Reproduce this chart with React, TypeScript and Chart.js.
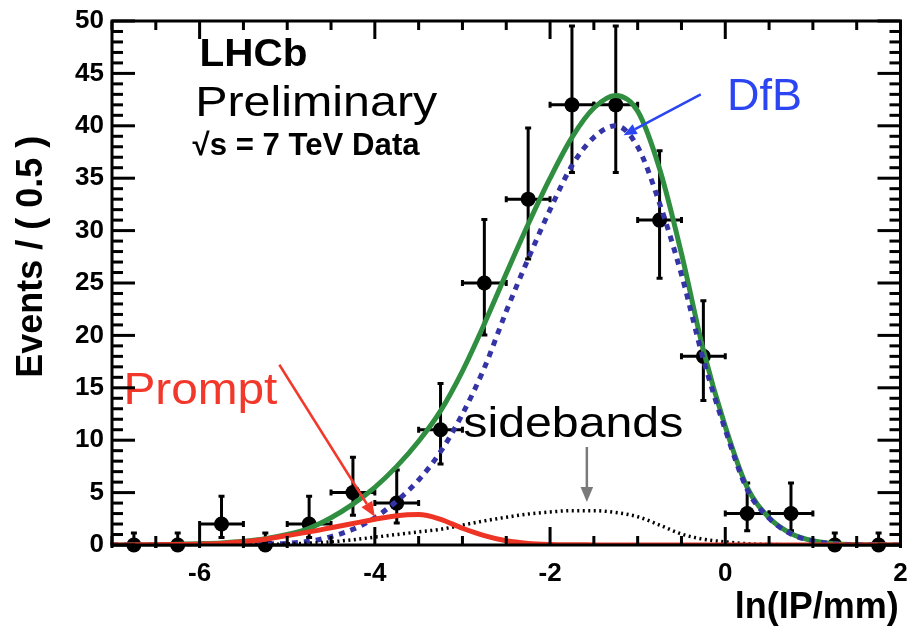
import React, { useEffect, useRef } from "react";
import { Chart, registerables } from "chart.js";

Chart.register(...registerables);

// ---------- data ----------
const binCenters = [-6.75, -6.25, -5.75, -5.25, -4.75, -4.25, -3.75, -3.25, -2.75, -2.25, -1.75, -1.25, -0.75, -0.25, 0.25, 0.75, 1.25, 1.75];
const counts = [0, 0, 2, 0, 2, 5, 4, 11, 25, 33, 42, 42, 31, 18, 3, 3, 0, 0];
const errLow = [0, 0, 1.29, 0, 1.29, 2.16, 1.91, 3.28, 4.97, 5.72, 6.45, 6.45, 5.54, 4.21, 1.63, 1.63, 0, 0];
const errHigh = [1.15, 1.15, 2.64, 1.15, 2.64, 3.38, 3.16, 4.42, 6.06, 6.79, 7.52, 7.52, 6.62, 5.3, 2.92, 2.92, 1.15, 1.15];
const binHalfWidth = 0.25;

const curveX = [-7, -6.75, -6.5, -6.25, -6, -5.75, -5.5, -5.25, -5, -4.75, -4.5, -4.25, -4, -3.75, -3.5, -3.25, -3, -2.75, -2.5, -2.25, -2, -1.75, -1.5, -1.25, -1, -0.75, -0.5, -0.25, 0, 0.25, 0.5, 0.75, 1, 1.25, 1.5, 1.75, 2];
const totalFit = [0, 0.01, 0.03, 0.06, 0.12, 0.2, 0.35, 0.6, 1.0, 1.6, 2.6, 3.9, 5.5, 7.5, 9.9, 12.8, 16.6, 21.1, 25.9, 30.6, 35.0, 38.9, 41.7, 42.9, 41.4, 35.9, 27.8, 18.6, 11.3, 5.5, 2.6, 1.1, 0.4, 0.12, 0.04, 0.01, 0];
const dfbFit = [0, 0, 0, 0.01, 0.02, 0.03, 0.05, 0.09, 0.16, 0.35, 0.8, 1.5, 2.6, 4.2, 6.2, 8.9, 12.5, 16.9, 22.3, 27.3, 32.0, 36.2, 38.9, 40.0, 38.0, 32.6, 25.8, 17.7, 11.0, 5.3, 2.55, 1.05, 0.38, 0.11, 0.03, 0.01, 0];
const promptFit = [0, 0.01, 0.02, 0.04, 0.08, 0.15, 0.3, 0.55, 0.9, 1.25, 1.65, 2.05, 2.45, 2.8, 2.9, 2.45, 1.6, 0.9, 0.4, 0.15, 0.05, 0.02, 0.01, 0, 0, 0, 0, 0, 0, 0, 0, 0, 0, 0, 0, 0, 0];
const sidebandFit = [0, 0, 0.01, 0.01, 0.02, 0.03, 0.04, 0.06, 0.1, 0.18, 0.3, 0.5, 0.75, 1.0, 1.25, 1.5, 1.9, 2.3, 2.65, 2.95, 3.15, 3.28, 3.28, 3.1, 2.7, 1.9, 1.05, 0.55, 0.3, 0.12, 0.05, 0.02, 0, 0, 0, 0, 0];

const xTickValues = [-6, -4, -2, 0, 2];
const yTickValues = [0, 5, 10, 15, 20, 25, 30, 35, 40, 45, 50];
const xMinorTicks = [-7, -6.5, -6, -5.5, -5, -4.5, -4, -3.5, -3, -2.5, -2, -1.5, -1, -0.5, 0, 0.5, 1, 1.5, 2];
const yMinorTicks = [0, 1, 2, 3, 4, 5, 6, 7, 8, 9, 10, 11, 12, 13, 14, 15, 16, 17, 18, 19, 20, 21, 22, 23, 24, 25, 26, 27, 28, 29, 30, 31, 32, 33, 34, 35, 36, 37, 38, 39, 40, 41, 42, 43, 44, 45, 46, 47, 48, 49, 50];
const xRange = [-7, 2];
const yRange = [0, 50];

const yTitle = "Events / ( 0.5 )";
const xTitle = "ln(IP/mm)";

// annotations: anchor in data coordinates
const labels = [
  { text: "LHCb", x: -6.0, y: 45.7, font: "bold 39px 'Liberation Sans'", color: "#000", width: 108 },
  { text: "Preliminary", x: -6.05, y: 40.9, font: "42px 'Liberation Sans'", color: "#000", width: 242 },
  { text: "\u221As = 7 TeV Data", x: -6.08, y: 37.2, font: "bold 31px 'Liberation Sans'", color: "#000", width: 227 },
  { text: "DfB", x: 0.02, y: 41.5, font: "44px 'Liberation Sans'", color: "#2b45f2", width: 75 },
  { text: "Prompt", x: -6.87, y: 13.5, font: "44px 'Liberation Sans'", color: "#f2382a", width: 154 },
  { text: "sidebands", x: -2.99, y: 10.3, font: "42px 'Liberation Sans'", color: "#000", width: 220 },
];
const arrows = [
  { x0: -0.28, y0: 43.0, x1: -1.16, y1: 39.1, color: "#2b45f2", width: 2.5, head: 13 },
  { x0: -5.09, y0: 17.2, x1: -4.0, y1: 2.7, color: "#f2382a", width: 2.5, head: 15 },
  { x0: -1.58, y0: 9.35, x1: -1.58, y1: 4.1, color: "#7a7a7a", width: 2.5, head: 15 },
];

const pts = (ys: number[]) => curveX.map((x, i) => ({ x, y: ys[i] }));

function drawArrow(ctx: CanvasRenderingContext2D, ax: number, ay: number, bx: number, by: number, color: string, w: number, head: number) {
  const ang = Math.atan2(by - ay, bx - ax);
  const hw = head * 0.42;
  const baseX = bx - head * Math.cos(ang);
  const baseY = by - head * Math.sin(ang);
  ctx.save();
  ctx.strokeStyle = color;
  ctx.fillStyle = color;
  ctx.lineWidth = w;
  ctx.setLineDash([]);
  ctx.beginPath();
  ctx.moveTo(ax, ay);
  ctx.lineTo(baseX, baseY);
  ctx.stroke();
  ctx.beginPath();
  ctx.moveTo(bx, by);
  ctx.lineTo(baseX - hw * Math.sin(ang), baseY + hw * Math.cos(ang));
  ctx.lineTo(baseX + hw * Math.sin(ang), baseY - hw * Math.cos(ang));
  ctx.closePath();
  ctx.fill();
  ctx.restore();
}

const physicsPlugin = {
  id: "physics",
  beforeDatasetsDraw(chart: any) {
    const ctx: CanvasRenderingContext2D = chart.ctx;
    const x = chart.scales.x, y = chart.scales.y;
    ctx.save();
    ctx.setLineDash([]);
    ctx.strokeStyle = "#000";
    ctx.lineWidth = 3;
    binCenters.forEach((c, i) => {
      const px = x.getPixelForValue(c);
      const py = y.getPixelForValue(counts[i]);
      const hiVal = counts[i] + errHigh[i];
      const clippedTop = hiVal > yRange[1];
      const yTop = y.getPixelForValue(Math.min(hiVal, yRange[1]));
      const yBot = y.getPixelForValue(Math.max(counts[i] - errLow[i], yRange[0]));
      const xl = x.getPixelForValue(c - binHalfWidth);
      const xr = x.getPixelForValue(c + binHalfWidth);
      ctx.beginPath();
      ctx.moveTo(px, yTop);
      ctx.lineTo(px, yBot);
      ctx.moveTo(xl, py);
      ctx.lineTo(xr, py);
      if (!clippedTop) {
        ctx.moveTo(px - 3, yTop);
        ctx.lineTo(px + 3, yTop);
      }
      if (errLow[i] > 0) {
        ctx.moveTo(px - 3, yBot);
        ctx.lineTo(px + 3, yBot);
      }
      ctx.moveTo(xl, py - 3);
      ctx.lineTo(xl, py + 3);
      ctx.moveTo(xr, py - 3);
      ctx.lineTo(xr, py + 3);
      ctx.stroke();
    });
    ctx.restore();
  },
  afterDatasetsDraw(chart: any) {
    const ctx: CanvasRenderingContext2D = chart.ctx;
    const x = chart.scales.x, y = chart.scales.y;
    arrows.forEach((a) =>
      drawArrow(ctx, x.getPixelForValue(a.x0), y.getPixelForValue(a.y0), x.getPixelForValue(a.x1), y.getPixelForValue(a.y1), a.color, a.width, a.head)
    );
    labels.forEach((l) => {
      ctx.save();
      ctx.font = l.font;
      ctx.fillStyle = l.color;
      ctx.textBaseline = "alphabetic";
      ctx.textAlign = "left";
      const m = ctx.measureText(l.text).width;
      const sx = l.width / m;
      ctx.translate(x.getPixelForValue(l.x), y.getPixelForValue(l.y));
      ctx.scale(sx, 1);
      ctx.fillText(l.text, 0, 0);
      ctx.restore();
    });
  },
  afterDraw(chart: any) {
    const ctx: CanvasRenderingContext2D = chart.ctx;
    const x = chart.scales.x, y = chart.scales.y;
    const ca = chart.chartArea;
    ctx.save();
    ctx.setLineDash([]);
    ctx.fillStyle = "#000";
    // inside ticks, all four sides
    yMinorTicks.forEach((v) => {
      const py = y.getPixelForValue(v);
      const len = yTickValues.indexOf(v) >= 0 ? 23 : 11;
      ctx.fillRect(ca.left, py - 1.5, len, 3);
      ctx.fillRect(ca.right - len, py - 1.5, len, 3);
    });
    xMinorTicks.forEach((v) => {
      const px = x.getPixelForValue(v);
      const len = xTickValues.indexOf(v) >= 0 ? 18 : 9;
      ctx.fillRect(px - 1.5, ca.bottom - len, 3, len);
      ctx.fillRect(px - 1.5, ca.top, 3, len);
    });
    ctx.strokeStyle = "#000";
    ctx.lineWidth = 3;
    ctx.strokeRect(ca.left, ca.top, ca.right - ca.left, ca.bottom - ca.top);
    // axis titles
    ctx.font = "bold 36px 'Liberation Sans'";
    ctx.textBaseline = "alphabetic";
    ctx.save();
    ctx.translate(42, y.getPixelForValue(27.5));
    ctx.rotate(-Math.PI / 2);
    ctx.textAlign = "center";
    ctx.fillText(yTitle, 0, 0);
    ctx.restore();
    ctx.textAlign = "right";
    ctx.fillText(xTitle, x.getPixelForValue(1.98), 618);
    ctx.restore();
  },
};

export default function App() {
  const ref = useRef<HTMLCanvasElement>(null);
  useEffect(() => {
    document.body.style.margin = "0";
    const canvas = ref.current;
    if (!canvas) return;
    const tickFont = { family: "'Liberation Sans'", weight: "bold" as const, size: 26 };
    const chart = new Chart(canvas, {
      type: "line",
      data: {
        datasets: [
          {
            type: "scatter",
            label: "data",
            data: binCenters.map((c, i) => ({ x: c, y: counts[i] })),
            pointRadius: 7.5,
            pointBackgroundColor: "#000",
            pointBorderWidth: 0,
            showLine: false,
            clip: false,
            order: 10,
          } as any,
          {
            label: "total",
            data: pts(totalFit),
            borderColor: "#2f8e3f",
            borderWidth: 5,
            pointRadius: 0,
            cubicInterpolationMode: "monotone",
            fill: false,
            order: 4,
          },
          {
            label: "DfB",
            data: pts(dfbFit),
            borderColor: "#3434a6",
            borderWidth: 5,
            borderDash: [6, 6],
            pointRadius: 0,
            cubicInterpolationMode: "monotone",
            fill: false,
            order: 3,
          },
          {
            label: "sidebands",
            data: pts(sidebandFit),
            borderColor: "#000",
            borderWidth: 3.5,
            borderDash: [2, 3.5],
            pointRadius: 0,
            cubicInterpolationMode: "monotone",
            fill: false,
            order: 2,
          },
          {
            label: "Prompt",
            data: pts(promptFit),
            borderColor: "#ee3424",
            borderWidth: 5,
            pointRadius: 0,
            cubicInterpolationMode: "monotone",
            fill: false,
            order: 1,
          },
        ],
      },
      options: {
        responsive: false,
        devicePixelRatio: 1,
        animation: false,
        events: [],
        layout: { padding: { left: 0, top: 21, right: 6, bottom: 0 } },
        plugins: { legend: { display: false }, tooltip: { enabled: false } },
        scales: {
          x: {
            type: "linear",
            min: xRange[0],
            max: xRange[1],
            bounds: "data",
            grid: { display: false, drawTicks: false },
            border: { display: false },
            ticks: { font: tickFont, color: "#000", padding: 13, maxRotation: 0, autoSkip: false, callback: (v: any) => String(v) },
            afterBuildTicks: (s: any) => {
              s.ticks = xTickValues.map((v) => ({ value: v }));
            },
            afterFit: (s: any) => {
              s.height = 82;
              s.paddingLeft = 0;
              s.paddingRight = 0;
            },
          },
          y: {
            type: "linear",
            min: yRange[0],
            max: yRange[1],
            bounds: "data",
            grid: { display: false, drawTicks: false },
            border: { display: false },
            ticks: { font: tickFont, color: "#000", padding: 8, autoSkip: false, callback: (v: any) => String(v) },
            afterBuildTicks: (s: any) => {
              s.ticks = yTickValues.map((v) => ({ value: v }));
            },
            afterFit: (s: any) => {
              s.width = 112;
              s.paddingTop = 0;
              s.paddingBottom = 0;
            },
          },
        },
      },
      plugins: [physicsPlugin],
    });
    return () => chart.destroy();
  }, []);
  return (
    <div style={{ position: "absolute", left: 0, top: 0, width: 908, height: 627, background: "#fff" }}>
      <canvas ref={ref} width={908} height={627} style={{ display: "block", width: 908, height: 627 }} />
    </div>
  );
}
